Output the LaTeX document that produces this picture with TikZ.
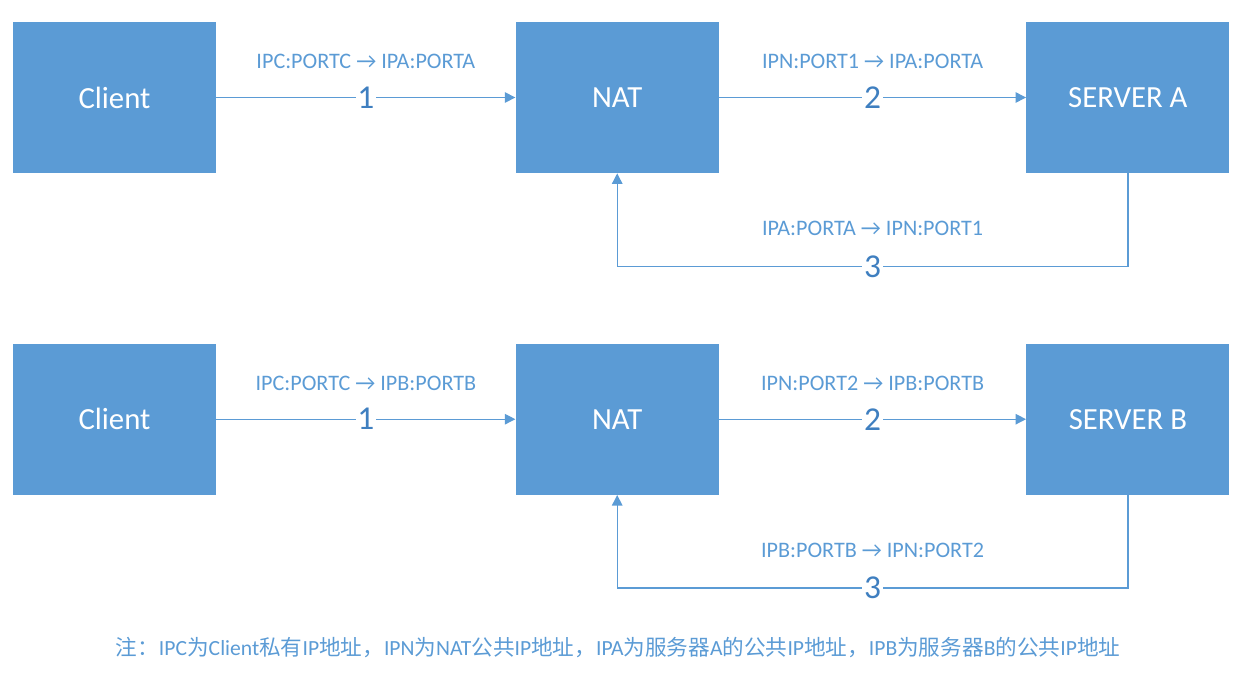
\documentclass[tikz,border=0pt]{standalone}
\usepackage{fontspec}
\setmainfont{Carlito}
\newfontfamily\cjk{Noto Sans CJK SC}
\usepackage{tikz}
\usetikzlibrary{arrows.meta}
\usetikzlibrary{calc}
\usetikzlibrary{positioning}
\definecolor{boxblue}{HTML}{5B9BD5}
\definecolor{numblue}{HTML}{3F7FC0}
\newcommand{\zh}[1]{{\cjk #1}}

\begin{document}
\begin{tikzpicture}[node distance=5.98cm and 5.98cm,
		block/.style={rectangle,fill=boxblue,text=white,minimum width=4.06cm,minimum height=3.02cm,font=\fontsize{17.5}{20}\selectfont},
		link/.style={draw=boxblue,line width=0.7pt,-{Triangle[width=6pt,length=6pt]}},
		num/.style={fill=white,text=numblue,inner sep=1pt,font=\fontsize{19}{22}\selectfont},
		addr/.style={text=boxblue,font=\fontsize{12.6}{14}\selectfont}]
		\useasboundingbox (0,0) rectangle (24.84,-13.76);

		\node [block] at (2.29,-1.95) (clientA) {Client};
		\node [block,right=of clientA] (natA) {NAT};
		\node [block,right=6.14cm of natA] (serverA) {SERVER A};

		\node [block,below=3.4cm of clientA] (clientB) {Client};
		\node [block,right=of clientB] (natB) {NAT};
		\node [block,right=6.14cm of natB] (serverB) {SERVER B};

		\draw [link] (clientA) -- node [num] (a1) {1} (natA);
		\draw [link] (natA) -- node [num] (a2) {2} (serverA);
		\draw [link] (serverA.south) -- ++(0,-1.86) -| node [num,pos=0.25] (a3) {3} (natA.south);

		\draw [link] (clientB) -- node [num] (b1) {1} (natB);
		\draw [link] (natB) -- node [num] (b2) {2} (serverB);
		\draw [link] (serverB.south) -- ++(0,-1.86) -| node [num,pos=0.25] (b3) {3} (natB.south);

		\node [addr] at ($(a1)+(0,0.72)$) {IPC:PORTC \char"2192\ IPA:PORTA};
		\node [addr] at ($(a2)+(0,0.72)$) {IPN:PORT1 \char"2192\ IPA:PORTA};
		\node [addr] at ($(a3)+(0,0.76)$) {IPA:PORTA \char"2192\ IPN:PORT1};
		\node [addr] at ($(b1)+(0,0.72)$) {IPC:PORTC \char"2192\ IPB:PORTB};
		\node [addr] at ($(b2)+(0,0.72)$) {IPN:PORT2 \char"2192\ IPB:PORTB};
		\node [addr] at ($(b3)+(0,0.76)$) {IPB:PORTB \char"2192\ IPN:PORT2};

		\node [addr,font=\fontsize{12.3}{14}\selectfont] (note) at (12.36,-12.96) {\zh{注：}IPC\zh{为}Client\zh{私有}IP\zh{地址，}IPN\zh{为}NAT\zh{公共}IP\zh{地址，}IPA\zh{为服务器}A\zh{的公共}IP\zh{地址，}IPB\zh{为服务器}B\zh{的公共}IP\zh{地址}};
	\end{tikzpicture}
\end{document}
